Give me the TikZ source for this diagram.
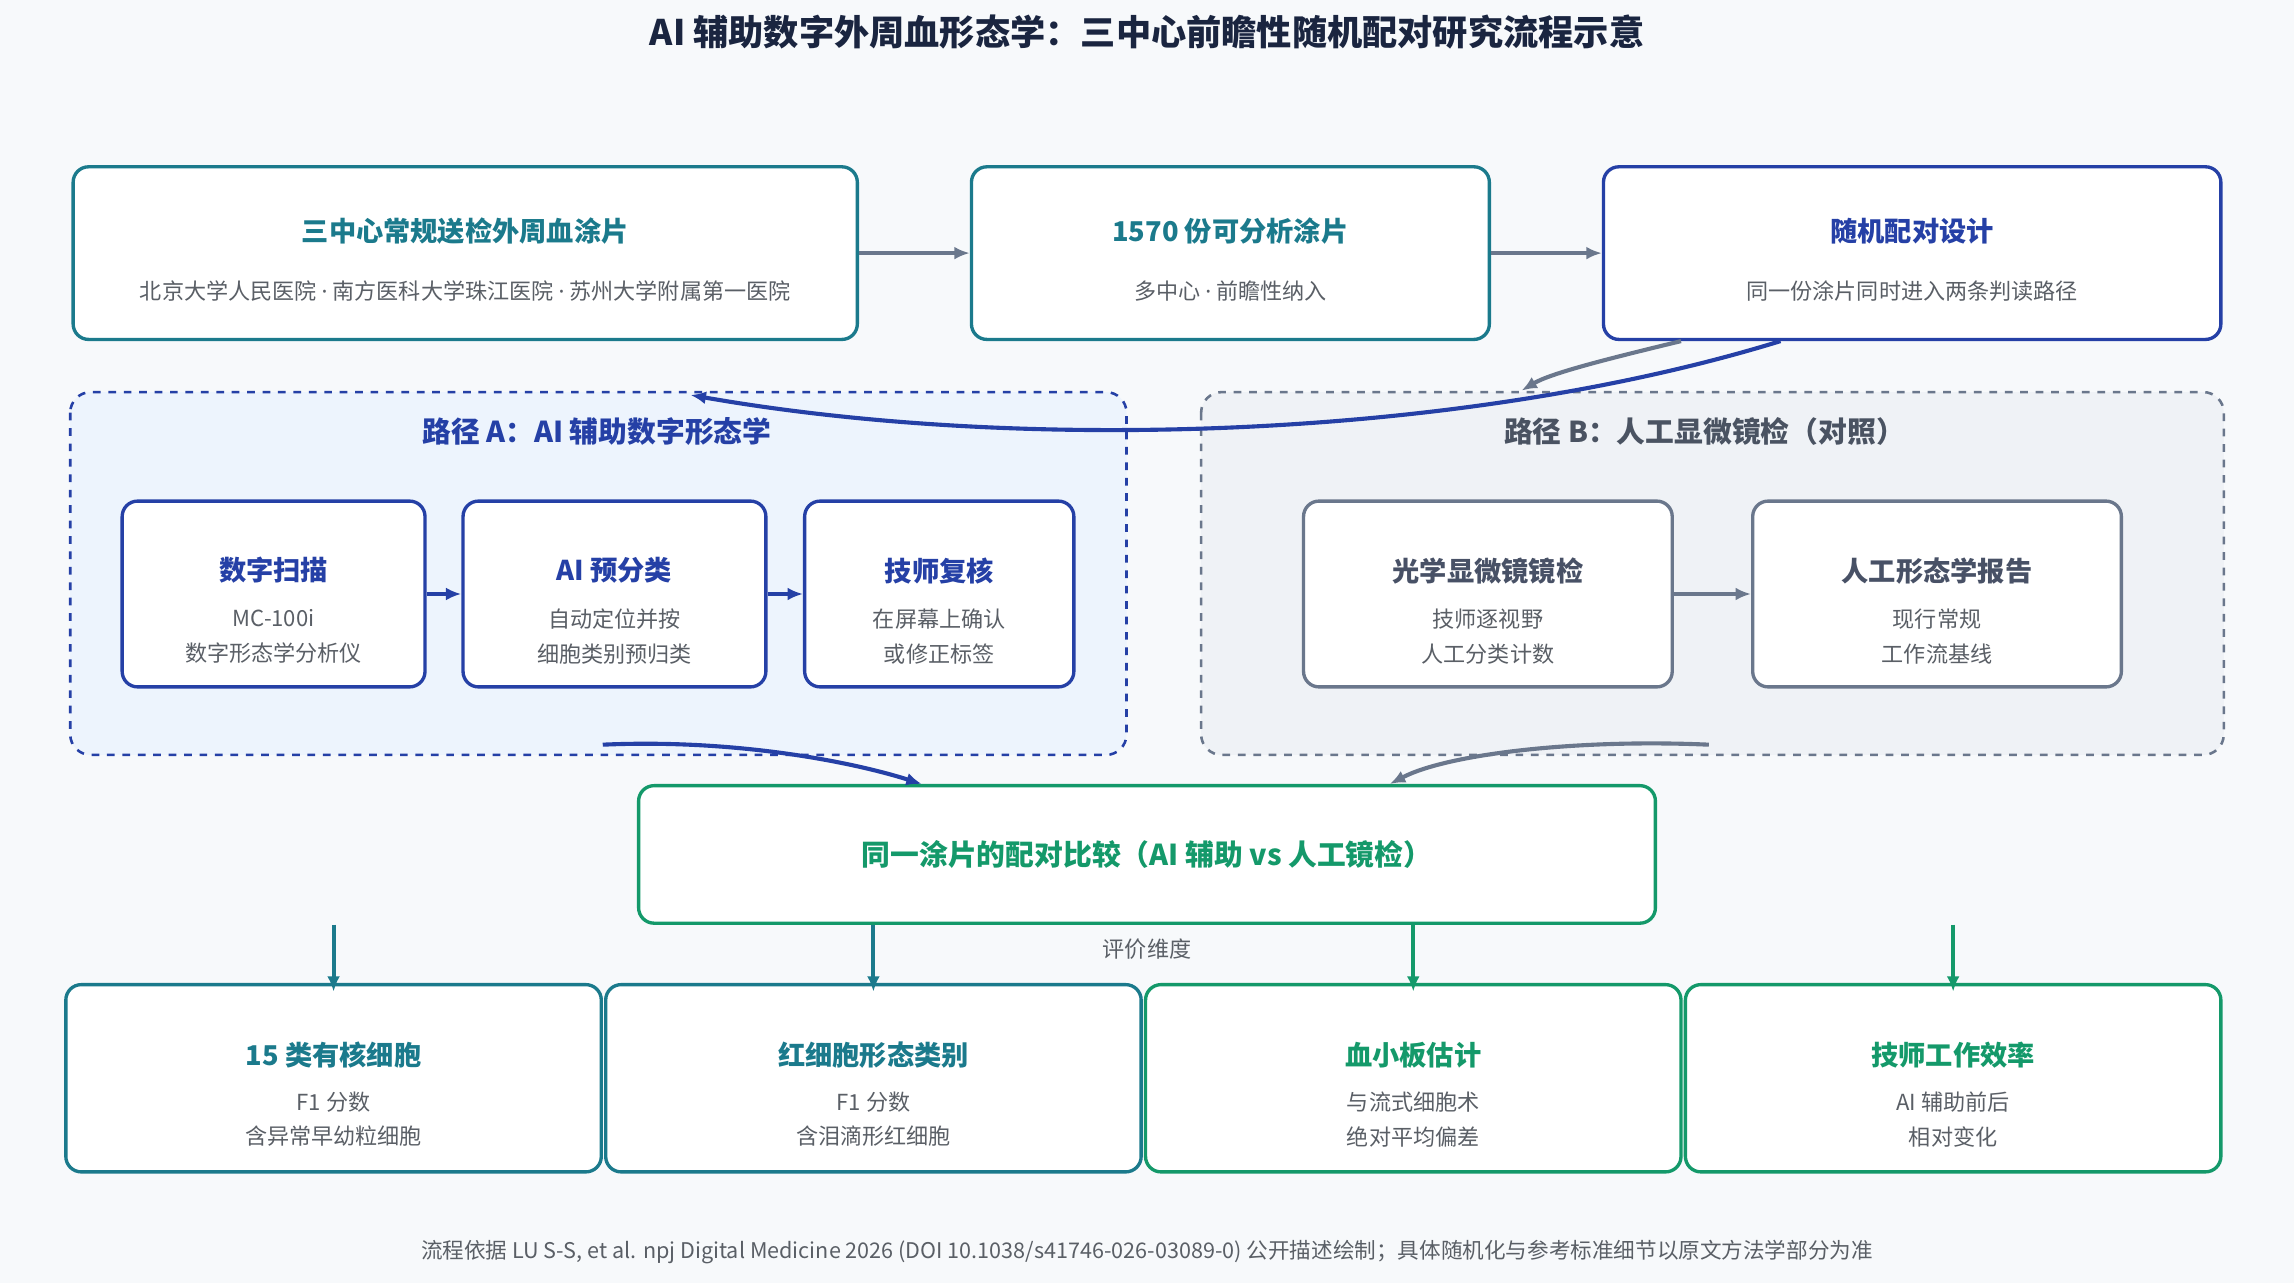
\documentclass[tikz,border=0pt]{standalone}
\usepackage{fontspec}
\setmainfont{Noto Sans CJK SC}
\newfontfamily\latdot{Noto Sans}
\newcommand{\mdot}{{\latdot ·}}
\usetikzlibrary{arrows.meta,positioning}
\definecolor{teal}{HTML}{1B7A8C}
\definecolor{blu}{HTML}{2540A6}
\definecolor{gry}{HTML}{6A778C}
\definecolor{grn}{HTML}{14996A}
\definecolor{ink}{HTML}{1A2540}
\definecolor{txt}{HTML}{5A5F66}
\definecolor{bg}{HTML}{F7F9FB}
\definecolor{zonea}{HTML}{EDF4FD}
\definecolor{zoneb}{HTML}{EFF2F6}
\begin{document}
\begin{tikzpicture}[x=0.02cm,y=-0.02cm,
	box/.style={draw, line width=1.3pt, rounded corners=6pt, fill=white, align=center, inner sep=0pt},
	zone/.style={draw, dashed, line width=1pt, rounded corners=8pt},
	head/.style={font=\bfseries\fontsize{10.6}{12}\selectfont},
	sub/.style={font=\fontsize{8.6}{13.5}\selectfont, text=txt},
	arr/.style={-{Latex[length=6pt,width=5pt]}, line width=1.6pt}]
	\fill[bg] (0,0) rectangle (1568,877);
	\node[font=\bfseries\fontsize{13.7}{16}\selectfont, text=ink] (title) at (784,22) {AI 辅助数字外周血形态学：三中心前瞻性随机配对研究流程示意};

	% top row
	\node[box, draw=teal, minimum width=536*0.02cm, minimum height=118*0.02cm] (src) at (318,173) {};
	\node[head, text=teal] at (318,158) {三中心常规送检外周血涂片};
	\node[sub] at (318,199) {北京大学人民医院 \mdot{} 南方医科大学珠江医院 \mdot{} 苏州大学附属第一医院};
	\node[box, draw=teal, minimum width=354*0.02cm, minimum height=118*0.02cm] (smear) at (841,173) {};
	\node[head, text=teal] at (841,158) {1570 份可分析涂片};
	\node[sub] at (841,199) {多中心 \mdot{} 前瞻性纳入};
	\node[box, draw=blu, minimum width=422*0.02cm, minimum height=118*0.02cm] (rand) at (1307,173) {};
	\node[head, text=blu] at (1307,158) {随机配对设计};
	\node[sub] at (1307,199) {同一份涂片同时进入两条判读路径};
	\draw[arr, gry] (src) -- (smear);
	\draw[arr, gry] (smear) -- (rand);

	% zones
	\draw[zone, draw=blu, fill=zonea] (48,268) rectangle (770,516);
	\node[head, text=blu, font=\bfseries\fontsize{11.2}{13}\selectfont] (za) at (408,295) {路径 A：AI 辅助数字形态学};
	\draw[zone, draw=gry, fill=zoneb] (821,268) rectangle (1520,516);
	\node[head, text=gry!70!black, font=\bfseries\fontsize{11.2}{13}\selectfont] (zb) at (1165,295) {路径 B：人工显微镜检（对照）};

	% path A
	\node[box, draw=blu, minimum width=207*0.02cm, minimum height=127*0.02cm] (scan) at (187,406) {};
	\node[head, text=blu] at (187,390) {数字扫描};
	\node[sub, align=center] at (187,435) {MC-100i\\数字形态学分析仪};
	\node[box, draw=blu, minimum width=207*0.02cm, minimum height=127*0.02cm] (pre) at (420,406) {};
	\node[head, text=blu] at (420,390) {AI 预分类};
	\node[sub, align=center] at (420,435) {自动定位并按\\细胞类别预归类};
	\node[box, draw=blu, minimum width=184*0.02cm, minimum height=127*0.02cm] (rev) at (642,406) {};
	\node[head, text=blu] at (642,390) {技师复核};
	\node[sub, align=center] at (642,435) {在屏幕上确认\\或修正标签};
	\draw[arr, blu] (scan) -- (pre);
	\draw[arr, blu] (pre) -- (rev);

	% path B
	\node[box, draw=gry, minimum width=252*0.02cm, minimum height=127*0.02cm] (micro) at (1017,406) {};
	\node[head, text=ink!80] at (1017,390) {光学显微镜镜检};
	\node[sub, align=center] at (1017,435) {技师逐视野\\人工分类计数};
	\node[box, draw=gry, minimum width=252*0.02cm, minimum height=127*0.02cm] (rep) at (1324,406) {};
	\node[head, text=ink!80] at (1324,390) {人工形态学报告};
	\node[sub, align=center] at (1324,435) {现行常规\\工作流基线};
	\draw[arr, gry] (micro) -- (rep);

	% split
	\coordinate (ina) at (472,270);
	\coordinate (inb) at (1040,267);
	\draw[arr, blu] ([xshift=-90*0.02cm]rand.south) .. controls (1000,300) and (700,310) .. (ina);
	\draw[arr, gry] ([xshift=-158*0.02cm]rand.south) .. controls (1100,245) and (1060,255) .. (inb);

	% compare
	\node[box, draw=grn, minimum width=695*0.02cm, minimum height=94*0.02cm] (cmp) at (784,584) {};
	\node[head, text=grn, font=\bfseries\fontsize{11.2}{13}\selectfont] at (784,584) {同一涂片的配对比较（AI 辅助 vs 人工镜检）};
	\coordinate (outa) at (412,509);
	\coordinate (outb) at (1168,509);
	\draw[arr, blu] (outa) .. controls (500,505) and (580,520) .. ([xshift=-154*0.02cm]cmp.north);
	\draw[arr, gry] (outb) .. controls (1080,505) and (990,515) .. ([xshift=166*0.02cm]cmp.north);
	\node[sub] (dim) at (784,649) {评价维度};

	% metrics
	\foreach \nm/\x/\col/\hd/\la/\lb in {nuc/228/teal/15 类有核细胞/F1 分数/含异常早幼粒细胞,
		rbc/597/teal/红细胞形态类别/F1 分数/含泪滴形红细胞,
		plt/966/grn/血小板估计/与流式细胞术/绝对平均偏差,
		eff/1335/grn/技师工作效率/AI 辅助前后/相对变化} {
		\node[box, draw=\col, minimum width=366*0.02cm, minimum height=128*0.02cm] (\nm) at (\x,737) {};
		\node[head, text=\col] at (\x,721) {\hd};
		\node[sub, align=center] at (\x,765) {\la\\\lb};
		\coordinate (\nm-top) at (\x,632);
		\draw[arr, \col] (\nm-top) -- ([yshift=-6*0.02cm]\nm.north);
	}

	\node[sub, font=\fontsize{8.4}{10}\selectfont] (foot) at (784,856) {流程依据 LU S-S, et al. npj Digital Medicine 2026 (DOI 10.1038/s41746-026-03089-0) 公开描述绘制；具体随机化与参考标准细节以原文方法学部分为准};
\end{tikzpicture}
\end{document}
